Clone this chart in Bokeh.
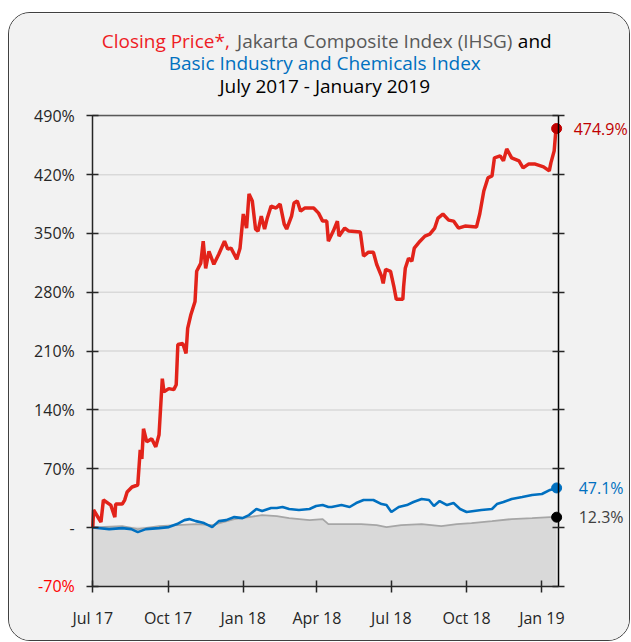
from bokeh.plotting import figure
from bokeh.models import Range1d, FixedTicker, LinearAxis, Label
from bokeh.embed import file_html
from bokeh.resources import INLINE

# x = days since 1 July 2017, y = % change since start
red_days = [0, 1, 10, 13, 22, 27, 28, 36, 39, 42, 48, 55, 58, 60, 62, 66, 72, 77, 81, 85, 87, 93, 99, 102,
            104, 110, 114, 116, 120, 125, 127, 132, 135, 138, 142, 148, 154, 161, 165, 169, 176, 180, 184,
            188, 191, 195, 199, 202, 206, 210, 213, 218, 224, 229, 234, 237, 243, 246, 250, 254, 259, 270,
            276, 281, 286, 288, 294, 299, 301, 308, 313, 327, 331, 337, 343, 347, 353, 355, 358, 364, 368,
            371, 379, 380, 382, 386, 390, 393, 400, 406, 412, 418, 422, 428, 435, 441, 447, 455, 469, 473,
            478, 483, 488, 491, 498, 502, 506, 512, 521, 526, 533, 540, 551, 558, 560, 564, 566, 567]
red_vals = [0, 20.8, 6.4, 32.7, 26.7, 12.4, 27.9, 27.9, 32.7, 42.3, 48.2, 50.6, 92.4, 81.7, 117.5, 102.0,
            105.6, 96.0, 110.4, 177.2, 161.7, 165.3, 164.1, 170.0, 217.8, 219.0, 207.1, 236.9, 253.6, 269.1,
            305.0, 314.5, 340.8, 308.5, 328.8, 313.3, 325.2, 340.8, 331.3, 332.5, 319.4, 332.5, 373.1, 356.4,
            397.0, 388.6, 355.2, 352.8, 370.7, 355.2, 367.1, 382.6, 380.2, 385.0, 361.1, 355.2, 370.7, 386.2,
            388.6, 376.6, 380.2, 380.2, 374.2, 364.7, 364.7, 340.8, 352.8, 364.7, 346.8, 356.4, 352.8, 351.6,
            323.0, 327.7, 327.7, 313.3, 299.0, 290.6, 307.3, 304.9, 287.1, 271.6, 271.6, 287.1, 308.5, 320.5,
            316.9, 332.5, 340.8, 346.8, 349.2, 356.4, 368.3, 373.1, 365.9, 364.7, 356.4, 358.8, 357.6, 373.1,
            400.6, 416.1, 418.5, 440.0, 442.3, 436.4, 450.7, 440.0, 436.4, 428.0, 432.8, 432.8, 429.2, 424.4,
            434.0, 448.3, 472.2, 474.9]

blue_days = [0, 20, 36, 47, 55, 65, 81, 93, 103, 112, 118, 126, 136, 146, 154, 163, 173, 183, 191, 200, 207,
             218, 225, 232, 240, 252, 265, 273, 281, 288, 292, 304, 314, 322, 331, 343, 353, 359, 365, 374,
             384, 392, 402, 411, 417, 424, 433, 441, 449, 457, 466, 475, 488, 494, 502, 512, 525, 537, 549,
             559, 567]
blue_vals = [0, -1.9, -0.7, -1.9, -5.5, -1.9, -0.7, 0.5, 4.1, 8.8, 10.0, 7.6, 5.3, 0.5, 7.6, 8.8, 12.4, 11.2,
             14.8, 22.0, 19.6, 23.2, 23.2, 24.4, 22.0, 20.8, 22.0, 25.6, 26.7, 24.4, 24.4, 26.7, 24.4, 29.1,
             32.7, 32.7, 27.9, 26.7, 18.4, 24.4, 26.7, 30.3, 33.9, 32.7, 25.6, 31.5, 26.7, 29.1, 22.0, 18.4,
             19.6, 20.8, 22.0, 27.9, 30.3, 33.9, 36.3, 38.7, 39.9, 44.7, 47.1]

gray_days = [0, 36, 55, 81, 103, 126, 146, 173, 191, 207, 225, 240, 265, 281, 288, 304, 328, 347, 359, 377,
             402, 426, 445, 463, 488, 512, 537, 559, 567]
gray_vals = [0, 1.7, -1.9, 1.7, 2.9, 4.1, 2.9, 10.0, 12.4, 14.8, 13.6, 11.2, 8.8, 10.0, 4.1, 4.1, 4.1, 2.9,
             0.5, 2.9, 4.1, 1.7, 4.1, 5.3, 7.6, 10.0, 11.2, 12.4, 12.3]

x_ticks = [0, 92, 184, 274, 365, 457, 549]
x_tick_labels = ["Jul 17", "Oct 17", "Jan 18", "Apr 18", "Jul 18", "Oct 18", "Jan 19"]
y_ticks = [-70, 0, 70, 140, 210, 280, 350, 420, 490]
y_tick_labels = ["-70%", "-", "70%", "140%", "210%", "280%", "350%", "420%", "490%"]

end_labels = ["474.9%", "47.1%", "12.3%"]
title_parts = ["Closing Price*,", "Jakarta Composite Index (IHSG)", "and"]
title_line2 = "Basic Industry and Chemicals Index"
title_line3 = "July 2017 - January 2019"

# axis extents
X0, X1 = 0, 569
Y0, Y1 = -70, 490

FONT = "Open Sans"
BG = "#f2f2f2"
RED = "#e2231a"
DARKRED = "#c00000"
BLUE = "#0070c0"
AX = "#262626"
TICK_FS = "16px"
TITLE_FS = "19px"

# layout (pixels): card size and space round the data area
W, H = 622, 629
PAD_L, PAD_R, PAD_T, PAD_B = 83, 73, 102, 56
plot_w = W - 2 - PAD_L - PAD_R
plot_h = H - 2 - PAD_T - PAD_B
dx = (X1 - X0) / plot_w
dy = (Y1 - Y0) / plot_h

p = figure(width=W, height=H, output_backend="svg", toolbar_location=None,
           x_range=Range1d(X0 - PAD_L * dx, X1 + PAD_R * dx),
           y_range=Range1d(Y0 - PAD_B * dy, Y1 + PAD_T * dy),
           x_axis_location=None, y_axis_location=None, min_border=0,
           background_fill_color=BG, border_fill_color=BG)
p.styles = {"border": "1px solid #404040", "border-radius": "22px", "overflow": "hidden",
            "margin-top": "12px", "margin-left": "8px"}
p.outline_line_color = None
p.xgrid.visible = False
p.ygrid.visible = False

# horizontal grid lines between the axes
p.segment(x0=X0, x1=X1, y0=y_ticks, y1=y_ticks, line_color="#d9d9d9", line_width=1.5)

# series
p.varea(x=gray_days, y1=Y0, y2=gray_vals, fill_color="#d9d9d9")
p.line(gray_days, gray_vals, line_color="#a6a6a6", line_width=1.8)
p.line(blue_days, blue_vals, line_color=BLUE, line_width=2.6)
p.line(red_days, red_vals, line_color=RED, line_width=3.5)

p.scatter([red_days[-1]], [red_vals[-1]], size=10, fill_color=DARKRED, line_color=DARKRED)
p.scatter([blue_days[-1]], [blue_vals[-1]], size=10, fill_color=BLUE, line_color=BLUE)
p.scatter([gray_days[-1]], [gray_vals[-1]], size=10, fill_color="#000000", line_color="#000000")

common = dict(minor_tick_line_color=None, major_tick_in=6, major_tick_out=6,
              axis_line_width=1.5, major_tick_line_width=1.5,
              major_label_text_font=FONT, major_label_text_font_size=TICK_FS,
              major_label_text_color=AX)

y_over = {t: l for t, l in zip(y_ticks, y_tick_labels)}
y_over[Y0] = ""
left = LinearAxis(fixed_location=X0, bounds=(Y0, Y1), ticker=FixedTicker(ticks=y_ticks),
                  major_label_overrides=y_over, axis_line_color=AX, major_tick_line_color=AX,
                  major_label_standoff=12, **common)
p.add_layout(left, "left")

bottom = LinearAxis(fixed_location=Y0, bounds=(X0, X1), ticker=FixedTicker(ticks=x_ticks),
                    major_label_overrides={t: l for t, l in zip(x_ticks, x_tick_labels)},
                    axis_line_color=AX, major_tick_line_color=AX, major_label_standoff=15, **common)
p.add_layout(bottom, "below")

right = LinearAxis(fixed_location=X1, bounds=(Y0, Y1), ticker=FixedTicker(ticks=y_ticks),
                   axis_line_color="#000000", major_tick_line_color=AX,
                   minor_tick_line_color=None, major_tick_in=6, major_tick_out=6,
                   axis_line_width=1.5, major_tick_line_width=1.5, major_label_text_color=None)
p.add_layout(right, "right")

top = LinearAxis(fixed_location=Y1, bounds=(X0, X1), ticker=FixedTicker(ticks=[]),
                 axis_line_color="#595959", axis_line_width=1.5, major_tick_line_color=None,
                 minor_tick_line_color=None, major_label_text_color=None)
p.add_layout(top, "above")


def label(x, y, text, color, dx_px=0, dy_px=0, align="left", size=TICK_FS):
    p.add_layout(Label(x=x, y=y, x_offset=dx_px, y_offset=dy_px, text=text, text_color=color,
                       text_font=FONT, text_font_size=size, text_baseline="middle",
                       text_align=align))


# end-of-series value labels
label(red_days[-1], red_vals[-1], end_labels[0], DARKRED, 17)
label(blue_days[-1], blue_vals[-1], end_labels[1], BLUE, 22)
label(gray_days[-1], gray_vals[-1], end_labels[2], "#404040", 22)

# red -70% tick label
label(X0, Y0, y_tick_labels[0], "#ff0000", -18, 0, "right")

# title lines
label(X0, Y1, title_parts[0], "#ee1c25", 73, 75, "center", TITLE_FS)
label(X0, Y1, title_parts[1], "#595959", 282, 75, "center", TITLE_FS)
label(X0, Y1, title_parts[2], "#000000", 442, 75, "center", TITLE_FS)
label(X0, Y1, title_line2, BLUE, plot_w / 2, 53, "center", TITLE_FS)
label(X0, Y1, title_line3, "#000000", plot_w / 2, 30, "center", TITLE_FS)

open("out.html", "w").write(file_html(p, INLINE))
